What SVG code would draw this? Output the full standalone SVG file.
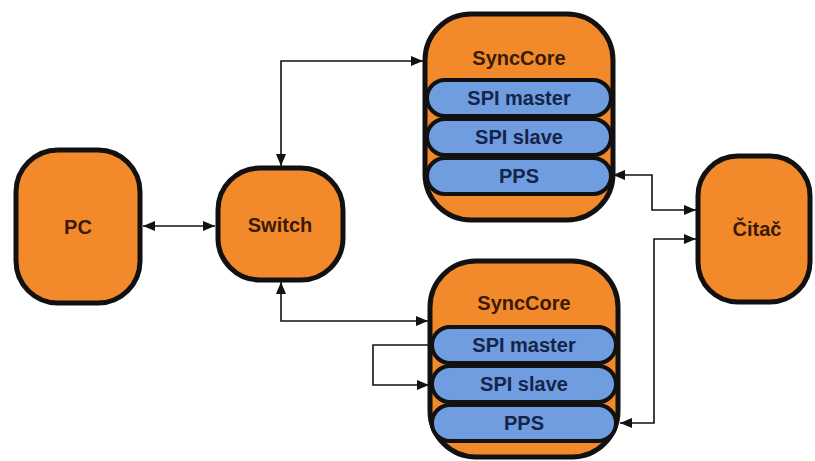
<svg xmlns="http://www.w3.org/2000/svg" width="815" height="461" viewBox="0 0 815 461">
  <style>
    .box { fill: #f28a2c; stroke: #111; stroke-width: 5; }
    .pill { fill: #6f9de0; stroke: #111; stroke-width: 4; }
    .lbl { font-family: "Liberation Sans", Arial, sans-serif; font-weight: bold; font-size: 20px; text-anchor: middle; dominant-baseline: central; }
    .dark { fill: #3a1a05; }
    .navy { fill: #14244a; }
    .wire { fill: none; stroke: #111; stroke-width: 1.6; }
  </style>
  <defs>
    <marker id="arrow" viewBox="0 0 12 10" refX="12" refY="5" markerWidth="12" markerHeight="10" markerUnits="userSpaceOnUse" orient="auto-start-reverse">
      <path d="M0,0 L12,5 L0,10 z" fill="#111"/>
    </marker>
  </defs>
  <rect width="815" height="461" fill="#ffffff"/>

  <g id="connectors">
    <!-- PC to Switch -->
    <path class="wire" d="M143,226 H215" marker-start="url(#arrow)" marker-end="url(#arrow)"/>
    <!-- Switch to upper SyncCore -->
    <path class="wire" d="M281,166 V61 H423" marker-start="url(#arrow)" marker-end="url(#arrow)"/>
    <!-- Switch to lower SyncCore -->
    <path class="wire" d="M281,282 V321 H428" marker-start="url(#arrow)" marker-end="url(#arrow)"/>
    <!-- SPI master to SPI slave loop -->
    <path class="wire" d="M430,345 H373 V385 H429" marker-end="url(#arrow)"/>
    <!-- Upper PPS to counter -->
    <path class="wire" d="M613,175 H652 V210 H696" marker-start="url(#arrow)" marker-end="url(#arrow)"/>
    <!-- Lower PPS to counter -->
    <path class="wire" d="M620,423 H654 V239 H696" marker-start="url(#arrow)" marker-end="url(#arrow)"/>
  </g>

  <g id="pc">
    <rect class="box" x="16" y="150" width="124" height="153" rx="42"/>
    <text class="lbl dark" x="78" y="227">PC</text>
  </g>

  <g id="switch">
    <rect class="box" x="218" y="168" width="125" height="112" rx="42"/>
    <text class="lbl dark" x="280" y="225">Switch</text>
  </g>

  <g id="synccore-top">
    <rect class="box" x="425" y="14" width="188" height="206" rx="46"/>
    <text class="lbl dark" x="519" y="58">SyncCore</text>
    <rect class="pill" x="427" y="80" width="184" height="36" rx="18"/>
    <text class="lbl navy" x="519" y="98">SPI master</text>
    <rect class="pill" x="427" y="119" width="184" height="36" rx="18"/>
    <text class="lbl navy" x="519" y="137">SPI slave</text>
    <rect class="pill" x="427" y="158" width="184" height="36" rx="18"/>
    <text class="lbl navy" x="519" y="176">PPS</text>
  </g>

  <g id="synccore-bottom">
    <rect class="box" x="430" y="261" width="188" height="196" rx="46"/>
    <text class="lbl dark" x="524" y="303">SyncCore</text>
    <rect class="pill" x="432" y="327" width="184" height="36" rx="18"/>
    <text class="lbl navy" x="524" y="345">SPI master</text>
    <rect class="pill" x="432" y="366" width="184" height="36" rx="18"/>
    <text class="lbl navy" x="524" y="384">SPI slave</text>
    <rect class="pill" x="432" y="405" width="184" height="36" rx="18"/>
    <text class="lbl navy" x="524" y="423">PPS</text>
  </g>

  <g id="citac">
    <rect class="box" x="698" y="156" width="112" height="146" rx="40"/>
    <text class="lbl dark" x="757" y="229">Čitač</text>
  </g>
</svg>
